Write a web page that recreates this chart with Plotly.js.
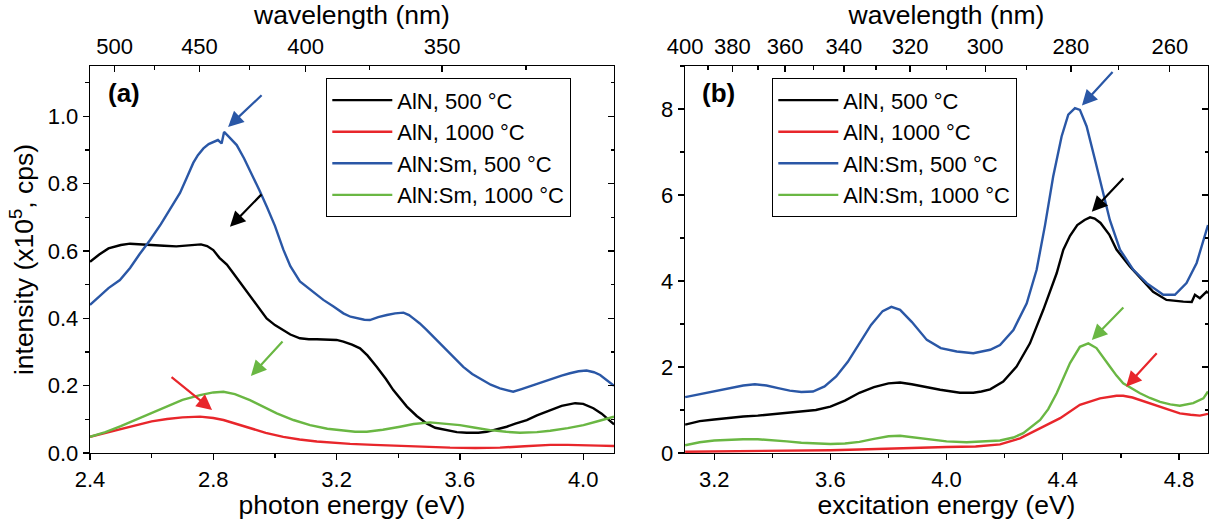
<!DOCTYPE html>
<html>
<head>
<meta charset="utf-8">
<script src="https://cdn.plot.ly/plotly-3.0.1.min.js"></script>
<style>html,body{margin:0;padding:0;background:#fff;}#plot{width:1216px;height:520px;}</style>
</head>
<body>
<div id="plot"></div>
<script>
// ---------- Panel (a): photoluminescence vs photon energy ----------
const seriesNames = ['AlN, 500 °C', 'AlN, 1000 °C', 'AlN:Sm, 500 °C', 'AlN:Sm, 1000 °C'];

const a_AlN500_E = [2.40,2.43,2.46,2.50,2.53,2.56,2.60,2.64,2.68,2.72,2.76,2.78,2.80,2.82,2.844,2.865,2.90,2.93,2.973,3.00,3.027,3.05,3.081,3.11,3.136,3.17,3.20,3.222,3.25,3.276,3.30,3.33,3.36,3.384,3.41,3.428,3.46,3.492,3.52,3.557,3.59,3.622,3.66,3.687,3.72,3.752,3.78,3.817,3.85,3.893,3.93,3.974,4.00,4.033,4.06,4.10];
const a_AlN500_I = [0.568,0.590,0.608,0.618,0.622,0.620,0.617,0.616,0.614,0.618,0.620,0.615,0.603,0.580,0.560,0.534,0.490,0.455,0.400,0.380,0.366,0.352,0.341,0.338,0.338,0.336,0.336,0.331,0.322,0.311,0.290,0.256,0.220,0.187,0.158,0.138,0.110,0.088,0.075,0.068,0.062,0.060,0.060,0.063,0.070,0.078,0.087,0.098,0.112,0.128,0.140,0.148,0.146,0.133,0.117,0.085];

const a_AlN1000_E = [2.40,2.45,2.50,2.55,2.60,2.65,2.70,2.757,2.80,2.833,2.875,2.919,2.97,3.027,3.08,3.136,3.19,3.244,3.32,3.406,3.49,3.568,3.65,3.73,3.81,3.893,3.95,4.001,4.05,4.10];
const a_AlN1000_I = [0.048,0.060,0.072,0.084,0.094,0.101,0.106,0.108,0.104,0.098,0.086,0.073,0.060,0.048,0.040,0.034,0.030,0.027,0.024,0.021,0.018,0.016,0.015,0.016,0.020,0.024,0.024,0.024,0.022,0.021];

const a_Sm500_E = [2.40,2.43,2.46,2.497,2.53,2.56,2.595,2.63,2.66,2.692,2.715,2.735,2.75,2.768,2.785,2.80,2.815,2.827,2.835,2.85,2.876,2.90,2.93,2.95,2.974,3.00,3.027,3.05,3.081,3.103,3.13,3.157,3.19,3.222,3.245,3.265,3.29,3.308,3.335,3.363,3.39,3.417,3.435,3.449,3.47,3.492,3.52,3.546,3.58,3.611,3.64,3.676,3.70,3.73,3.755,3.773,3.80,3.838,3.87,3.903,3.93,3.957,3.985,4.011,4.035,4.055,4.08,4.10];
const a_Sm500_I = [0.440,0.465,0.490,0.514,0.550,0.590,0.633,0.680,0.725,0.773,0.820,0.862,0.885,0.905,0.918,0.925,0.930,0.920,0.954,0.940,0.915,0.875,0.820,0.780,0.731,0.675,0.605,0.555,0.510,0.494,0.475,0.455,0.435,0.415,0.405,0.400,0.396,0.395,0.404,0.410,0.415,0.417,0.410,0.400,0.385,0.366,0.340,0.316,0.285,0.256,0.235,0.217,0.203,0.192,0.185,0.182,0.190,0.202,0.212,0.222,0.230,0.237,0.243,0.245,0.240,0.232,0.215,0.200];

const a_Sm1000_E = [2.40,2.45,2.50,2.55,2.60,2.65,2.70,2.757,2.80,2.833,2.87,2.919,2.96,3.006,3.06,3.114,3.17,3.222,3.26,3.298,3.35,3.406,3.45,3.503,3.55,3.60,3.65,3.698,3.75,3.795,3.85,3.893,3.95,4.001,4.05,4.10];
const a_Sm1000_I = [0.048,0.062,0.080,0.100,0.120,0.140,0.158,0.172,0.180,0.182,0.175,0.157,0.138,0.118,0.098,0.083,0.072,0.066,0.063,0.063,0.069,0.078,0.086,0.091,0.088,0.083,0.075,0.068,0.063,0.060,0.062,0.066,0.074,0.083,0.095,0.108];

// ---------- Panel (b): excitation spectra vs excitation energy ----------
const b_AlN500_E = [3.10,3.15,3.20,3.25,3.30,3.35,3.40,3.45,3.50,3.55,3.60,3.65,3.70,3.75,3.80,3.84,3.88,3.92,3.978,4.046,4.092,4.12,4.15,4.195,4.241,4.287,4.333,4.379,4.402,4.425,4.45,4.475,4.494,4.51,4.53,4.56,4.585,4.631,4.677,4.711,4.757,4.79,4.815,4.844,4.855,4.872,4.895,4.90];
const b_AlN500_I = [0.66,0.74,0.78,0.82,0.85,0.87,0.90,0.93,0.96,1.00,1.08,1.22,1.40,1.53,1.62,1.64,1.60,1.54,1.47,1.40,1.40,1.43,1.48,1.66,2.01,2.55,3.33,4.18,4.73,5.05,5.30,5.42,5.48,5.45,5.35,5.08,4.73,4.34,3.99,3.75,3.56,3.53,3.52,3.51,3.68,3.60,3.75,3.72];

const b_AlN1000_E = [3.10,3.20,3.30,3.40,3.50,3.60,3.70,3.80,3.84,3.90,4.00,4.10,4.184,4.253,4.322,4.391,4.459,4.50,4.528,4.585,4.608,4.64,4.666,4.70,4.735,4.77,4.803,4.84,4.872,4.90];
const b_AlN1000_I = [0.03,0.035,0.04,0.045,0.055,0.065,0.08,0.10,0.12,0.13,0.14,0.15,0.20,0.34,0.57,0.81,1.12,1.22,1.27,1.33,1.33,1.29,1.23,1.15,1.08,1.00,0.92,0.89,0.87,0.91];

const b_Sm500_E = [3.10,3.15,3.20,3.25,3.30,3.34,3.38,3.42,3.46,3.50,3.54,3.58,3.62,3.66,3.70,3.74,3.78,3.81,3.84,3.88,3.932,3.98,4.035,4.092,4.15,4.184,4.23,4.276,4.31,4.339,4.367,4.396,4.419,4.442,4.459,4.482,4.511,4.539,4.562,4.597,4.643,4.689,4.746,4.786,4.826,4.861,4.90];
const b_Sm500_I = [1.30,1.37,1.44,1.51,1.57,1.60,1.57,1.51,1.45,1.42,1.43,1.55,1.78,2.12,2.55,2.98,3.30,3.40,3.33,3.05,2.63,2.44,2.36,2.32,2.40,2.51,2.86,3.48,4.26,5.30,6.43,7.36,7.87,8.02,7.98,7.60,6.82,6.05,5.42,4.73,4.26,3.95,3.68,3.68,3.95,4.42,5.30];

const b_Sm1000_E = [3.10,3.15,3.20,3.25,3.30,3.35,3.40,3.45,3.50,3.55,3.60,3.65,3.70,3.75,3.80,3.84,3.88,3.955,4.00,4.069,4.12,4.184,4.23,4.264,4.322,4.35,4.379,4.40,4.425,4.459,4.488,4.516,4.54,4.562,4.585,4.608,4.666,4.70,4.735,4.77,4.803,4.849,4.884,4.90];
const b_Sm1000_I = [0.18,0.25,0.29,0.31,0.32,0.32,0.30,0.27,0.24,0.22,0.21,0.22,0.26,0.33,0.39,0.40,0.37,0.30,0.27,0.25,0.26,0.29,0.36,0.46,0.77,1.02,1.39,1.70,2.09,2.47,2.55,2.44,2.23,2.01,1.80,1.62,1.39,1.28,1.19,1.13,1.10,1.16,1.27,1.43];

// ---------- Axis tick labels ----------
const wlMajorA = [500, 450, 400, 350];
const wlMinorA = [525, 475, 425, 375, 325, 300];
const wlMajorB = [400, 380, 360, 340, 320, 300, 280, 260];
const wlMinorB = [390, 370, 350, 330, 310, 290, 270, 250];
const HC = 1239.84; // eV*nm
const toE = wl => wl.map(w => HC / w);

const colors = ['#000000', '#e8262b', '#2a57a6', '#6ab743'];
const FONT = 'Liberation Sans, Arial, sans-serif';

const dataA = [[a_AlN500_E,a_AlN500_I],[a_AlN1000_E,a_AlN1000_I],[a_Sm500_E,a_Sm500_I],[a_Sm1000_E,a_Sm1000_I]];
const dataB = [[b_AlN500_E,b_AlN500_I],[b_AlN1000_E,b_AlN1000_I],[b_Sm500_E,b_Sm500_I],[b_Sm1000_E,b_Sm1000_I]];

const traces = [];
dataA.forEach((d, i) => traces.push({
  x: d[0], y: d[1], type: 'scatter', mode: 'lines', name: seriesNames[i],
  line: {color: colors[i], width: 2.4}, xaxis: 'x', yaxis: 'y',
  legend: 'legend', legendgroup: 'a' + i
}));
dataB.forEach((d, i) => traces.push({
  x: d[0], y: d[1], type: 'scatter', mode: 'lines', name: seriesNames[i],
  line: {color: colors[i], width: 2.4}, xaxis: 'x2', yaxis: 'y2',
  legend: 'legend2', legendgroup: 'b' + i
}));
// transparent carrier traces so the overlaying top (wavelength) and right axes are drawn
[['x3','y',dataA[0]],['x','y3',dataA[0]],['x4','y2',dataB[0]],['x2','y4',dataB[0]]].forEach(c => traces.push({
  x: c[2][0], y: c[2][1], type: 'scatter', mode: 'lines', xaxis: c[0], yaxis: c[1],
  line: {width: 0, color: 'rgba(0,0,0,0)'}, opacity: 0, showlegend: false, hoverinfo: 'skip'
}));

const W = 1216, H = 520;
const domXA = [90 / W, 614 / W];
const domXB = [685 / W, 1208 / W];
const domY = [(H - 453) / H, (H - 66) / H];
const rangeXA = [2.4, 4.1], rangeYA = [0, 1.15];
const rangeXB = [3.0995, 4.9], rangeYB = [0, 9.0];

const tickFont = {family: FONT, size: 22, color: '#000'};
const titleFont = {family: FONT, size: 26.5, color: '#000'};
const base = {
  showgrid: false, zeroline: false, showline: true, linecolor: '#000', linewidth: 1.3,
  tickcolor: '#000', tickwidth: 1.3, ticklen: 6, tickfont: tickFont, fixedrange: true
};

function bottomAxis(dom, range, title, anchor) {
  return Object.assign({}, base, {
    domain: dom, range: range, anchor: anchor, ticks: 'outside', tickmode: 'linear',
    tick0: 2.4, dtick: 0.4, tickformat: '.1f',
    minor: {dtick: 0.2, tick0: 2.4, ticks: 'outside', ticklen: 3.5, tickwidth: 1.3, tickcolor: '#000'},
    title: {text: title, font: titleFont, standoff: 0}
  });
}
function leftAxis(range, dtick, fmt, minorD, anchor, title) {
  const ax = Object.assign({}, base, {
    domain: domY, range: range, anchor: anchor, ticks: 'outside', tickmode: 'linear',
    tick0: 0, dtick: dtick, tickformat: fmt,
    minor: {dtick: minorD, tick0: 0, ticks: 'outside', ticklen: 3.5, tickwidth: 1.3, tickcolor: '#000'}
  });
  if (title) ax.title = {text: title, font: titleFont, standoff: 6};
  return ax;
}
function rightAxis(range, dtick, minorD, over, anchor) {
  return Object.assign({}, base, {
    overlaying: over, side: 'right', anchor: anchor, range: range, ticks: 'inside',
    tickmode: 'linear', tick0: 0, dtick: dtick, showticklabels: false,
    minor: {dtick: minorD, tick0: 0, ticks: 'inside', ticklen: 3.5, tickwidth: 1.3, tickcolor: '#000'}
  });
}
function topAxis(range, major, minor, over, anchor) {
  return Object.assign({}, base, {
    overlaying: over, side: 'top', anchor: anchor, range: range, ticks: 'inside',
    tickmode: 'array', tickvals: toE(major), ticktext: major.map(String),
    minor: {tickmode: 'array', tickvals: toE(minor), ticks: 'inside', ticklen: 3.5, tickwidth: 1.3, tickcolor: '#000'},
    ticklabelstandoff: 2,
    title: {text: 'wavelength (nm)', font: titleFont, standoff: 10}
  });
}

const legendBase = {
  xanchor: 'left', yanchor: 'top', bgcolor: '#fff', bordercolor: '#000', borderwidth: 1.3,
  font: {family: FONT, size: 22, color: '#000'}, tracegroupgap: 0, itemwidth: 60,
  traceorder: 'grouped'
};

function arrow(xref, yref, x, y, ax, ay, color) {
  return {xref: xref, yref: yref, x: x, y: y, ax: ax, ay: ay, axref: 'pixel', ayref: 'pixel',
    showarrow: true, arrowhead: 2, arrowsize: 1.4, arrowwidth: 2.2, arrowcolor: color, text: ''};
}

const layout = {
  width: W, height: H, margin: {l: 0, r: 0, t: 0, b: 0},
  paper_bgcolor: '#fff', plot_bgcolor: '#fff',
  font: {family: FONT, color: '#000'},
  showlegend: true,
  xaxis: bottomAxis(domXA, rangeXA, 'photon energy (eV)', 'y'),
  yaxis: leftAxis(rangeYA, 0.2, '.1f', 0.1, 'x', 'intensity (x10<sup>5</sup>, cps)'),
  xaxis2: bottomAxis(domXB, rangeXB, 'excitation energy (eV)', 'y2'),
  yaxis2: leftAxis(rangeYB, 2, 'd', 1, 'x2', null),
  xaxis3: topAxis(rangeXA, wlMajorA, wlMinorA, 'x', 'y'),
  yaxis3: rightAxis(rangeYA, 0.2, 0.1, 'y', 'x'),
  xaxis4: topAxis(rangeXB, wlMajorB, wlMinorB, 'x2', 'y2'),
  yaxis4: rightAxis(rangeYB, 2, 1, 'y2', 'x2'),
  legend: Object.assign({}, legendBase, {x: 326 / W, y: (H - 78) / H}),
  legend2: Object.assign({}, legendBase, {x: 772 / W, y: (H - 78) / H}),
  annotations: [
    {xref: 'paper', yref: 'paper', x: 106 / W, y: (H - 93) / H, xanchor: 'left', yanchor: 'middle',
     text: '<b>(a)</b>', showarrow: false, font: {family: FONT, size: 26, color: '#000'}},
    {xref: 'paper', yref: 'paper', x: 700 / W, y: (H - 93) / H, xanchor: 'left', yanchor: 'middle',
     text: '<b>(b)</b>', showarrow: false, font: {family: FONT, size: 26, color: '#000'}},
    arrow('x', 'y', 2.848, 0.969, 35, -33, colors[2]),
    arrow('x', 'y', 2.854, 0.672, 33, -34, colors[0]),
    arrow('x', 'y', 2.922, 0.229, 33, -36, colors[3]),
    arrow('x', 'y', 2.796, 0.128, -42, -34, colors[1]),
    arrow('x2', 'y2', 4.466, 8.08, 32, -35, colors[2]),
    arrow('x2', 'y2', 4.500, 5.61, 33, -35, colors[0]),
    arrow('x2', 'y2', 4.500, 2.63, 33, -34, colors[3]),
    arrow('x2', 'y2', 4.618, 1.54, 32, -35, colors[1])
  ]
};

Plotly.newPlot('plot', traces, layout, {displayModeBar: false, staticPlot: true});
</script>
</body>
</html>
